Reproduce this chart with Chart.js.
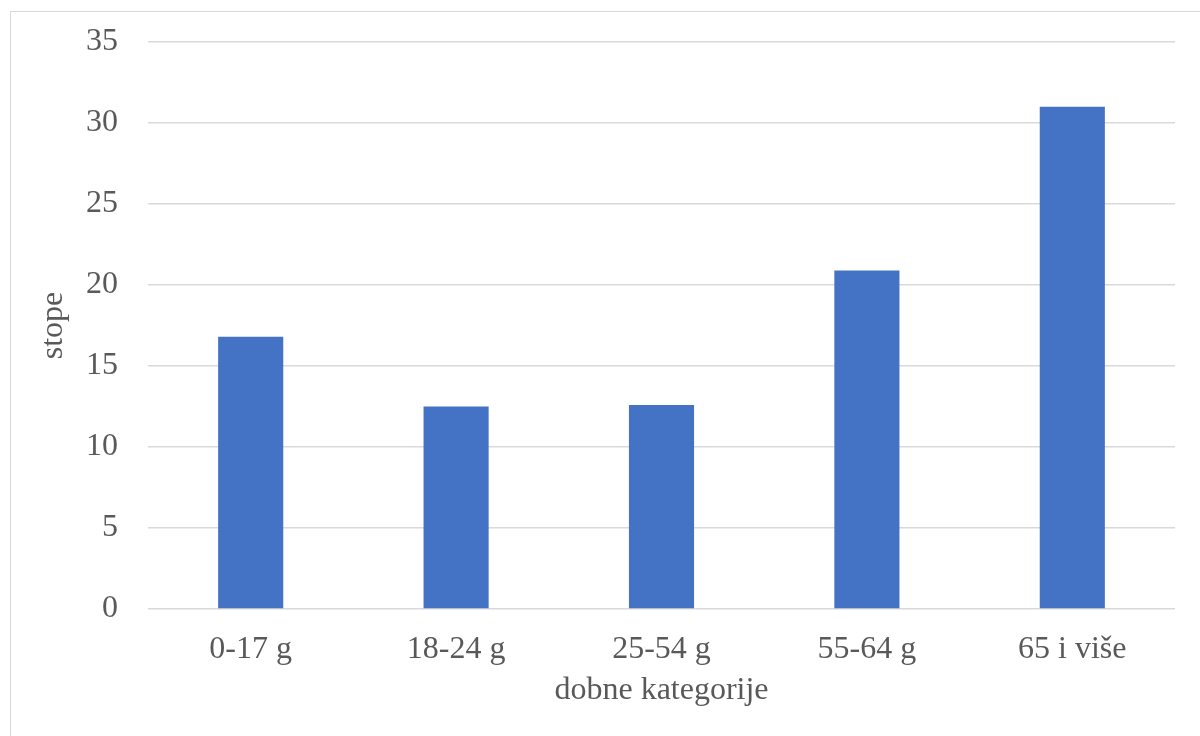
<!DOCTYPE html>
<html>
<head>
<meta charset="utf-8">
<script src="https://cdn.jsdelivr.net/npm/chart.js@4"></script>
<style>
  html, body { margin: 0; padding: 0; background: #fff; }
  #okvir { position: absolute; left: 0; top: 0; width: 1200px; height: 736px; }
  #rub { position: absolute; left: 10px; top: 11px; width: 1200px; height: 740px; border: 1.5px solid #d9d9d9; box-sizing: border-box; pointer-events: none; }
</style>
</head>
<body>
<div id="okvir"><canvas id="grafStope" width="1200" height="736"></canvas></div>
<div id="rub"></div>
<script>
// Podaci procijenjeni s grafikona
const kategorije = ['0-17 g', '18-24 g', '25-54 g', '55-64 g', '65 i više'];
const stope = [16.8, 12.5, 12.6, 20.9, 31.0];
const yTicks = [0, 5, 10, 15, 20, 25, 30, 35];

const sivaTekst = '#595959';
const font = { family: '"Liberation Serif", "Times New Roman", serif', size: 32 };

const ctx = document.getElementById('grafStope').getContext('2d');
new Chart(ctx, {
    type: 'bar',
    data: {
        labels: kategorije,
        datasets: [{
            data: stope,
            backgroundColor: '#4472c4',
            categoryPercentage: 1,
            barPercentage: 0.317
        }]
    },
    options: {
        responsive: false,
        animation: false,
        layout: { padding: { top: 42, right: 25, left: 0, bottom: 0 } },
        plugins: { legend: { display: false }, tooltip: { enabled: false } },
        scales: {
            x: {
                grid: { display: false },
                border: { display: false },
                ticks: { color: sivaTekst, font: font, padding: 13, maxRotation: 0 },
                title: { display: true, text: 'dobne kategorije', color: sivaTekst, font: font, padding: { top: 0, bottom: 26 } },
                afterFit: s => { s.height = 127; }
            },
            y: {
                min: 0,
                max: 35,
                afterBuildTicks: s => { s.ticks = yTicks.map(v => ({ value: v })); },
                grid: { color: '#d9d9d9', lineWidth: 1.5, drawTicks: false },
                border: { display: false },
                ticks: { color: sivaTekst, font: font, padding: 30 },
                title: { display: true, text: 'stope', color: sivaTekst, font: font, padding: { top: 34, bottom: 0 } },
                afterFit: s => { s.width = 148; s.paddingTop = 0; s.paddingBottom = 0; }
            }
        }
    }
});
</script>
</body>
</html>
